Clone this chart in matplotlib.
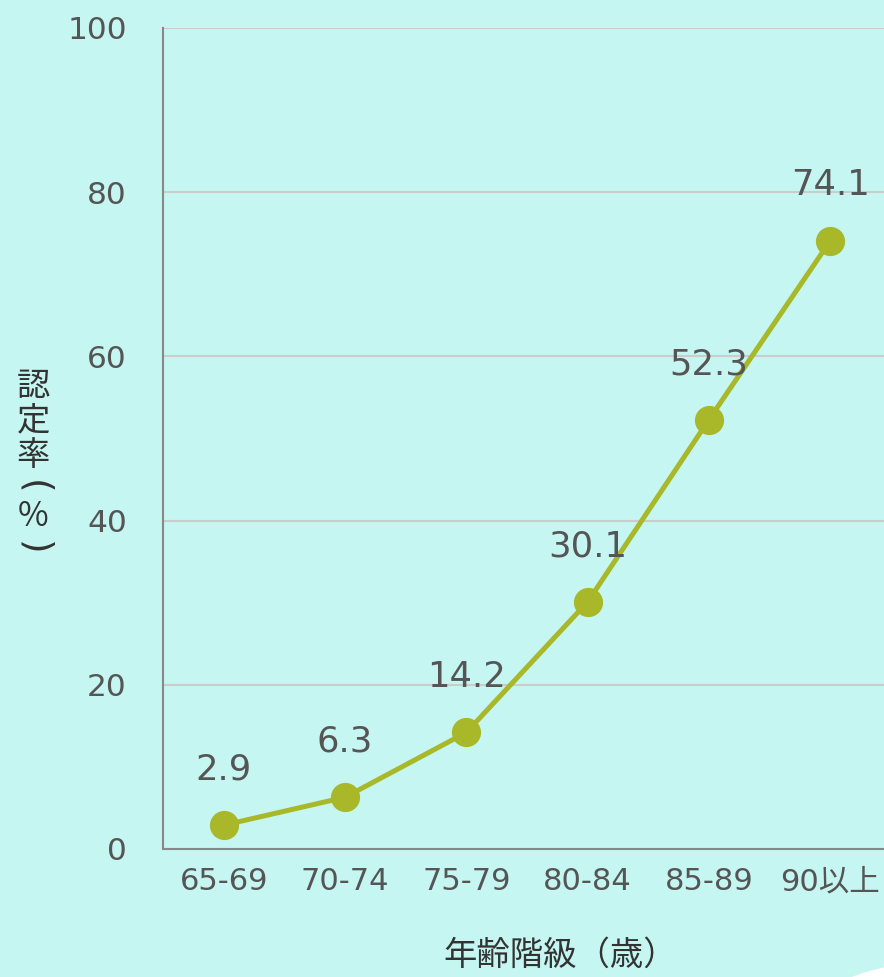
import matplotlib
matplotlib.use('Agg')
import matplotlib.pyplot as plt
import matplotlib.patches as mpatches

# digits in DejaVu (wide, like the original), CJK falls back to Noto
plt.rcParams['font.family'] = ['DejaVu Sans', 'Noto Sans CJK JP']

# data
age_groups = ['65-69', '70-74', '75-79', '80-84', '85-89', '90以上']
rates = [2.9, 6.3, 14.2, 30.1, 52.3, 74.1]
y_ticks = [0, 20, 40, 60, 80, 100]
y_title = ['認', '定', '率', '(', '%', ')']

bg = '#c5f6f1'
line_c = '#a8b829'
txt_c = '#555555'

fig = plt.figure(figsize=(8.84, 9.77), dpi=100, facecolor=bg)
# axes runs slightly past the right edge, as in the original
ax = fig.add_axes([163 / 884, 128 / 977, 728 / 884, 821 / 977])
ax.set_facecolor(bg)

x = list(range(len(age_groups)))
ax.plot(x, rates, color=line_c, linewidth=3.6, marker='o', markersize=20,
        markerfacecolor=line_c, markeredgecolor=line_c, zorder=3)

for xi, v in zip(x, rates):
    ax.annotate(f'{v}', (xi, v), xytext=(0, 40), textcoords='offset points',
                ha='center', va='center', fontsize=25.5, color=txt_c, zorder=4)

ax.set_xlim(-0.5, len(age_groups) - 0.5)
ax.set_ylim(0, 100)
ax.set_yticks(y_ticks)
ax.set_xticks(x)
ax.set_xticklabels(age_groups)
ax.tick_params(axis='both', length=0, labelcolor=txt_c)
ax.tick_params(axis='y', pad=26, labelsize=22.5)
ax.tick_params(axis='x', pad=13, labelsize=22)

ax.grid(axis='y', color='#cccccc', linewidth=1.5, zorder=0)
ax.set_axisbelow(True)
for s in ['top', 'right']:
    ax.spines[s].set_visible(False)
for s in ['left', 'bottom']:
    ax.spines[s].set_color('#888888')
    ax.spines[s].set_linewidth(1.5)

# axis titles
fig.text(560 / 884, 1 - 955 / 977, '年齢階級（歳）', ha='center', va='center',
         fontsize=24, color='#333333', family='Noto Sans CJK JP')
# vertical title, one character per line; brackets turned sideways
y_pos = [386, 421, 456, 487, 516, 548]
for ch, yp in zip(y_title, y_pos):
    if ch in '()':
        fig.text(33 / 884, 1 - yp / 977, ch, ha='center', va='center', rotation=-90,
                 fontsize=27, color='#333333', family='DejaVu Sans')
    else:
        fig.text(33 / 884, 1 - yp / 977, ch, ha='center', va='center',
                 fontsize=24, color='#333333', family='Noto Sans CJK JP')

# white corner shape at the bottom right
corner = mpatches.Ellipse((920 / 884, 1 - 1150 / 977), 2 * 186 / 884, 2 * 186 / 977,
                          transform=fig.transFigure, facecolor='white', edgecolor='none')
fig.patches.append(corner)

fig.savefig('out.png', dpi=100, facecolor=bg)
